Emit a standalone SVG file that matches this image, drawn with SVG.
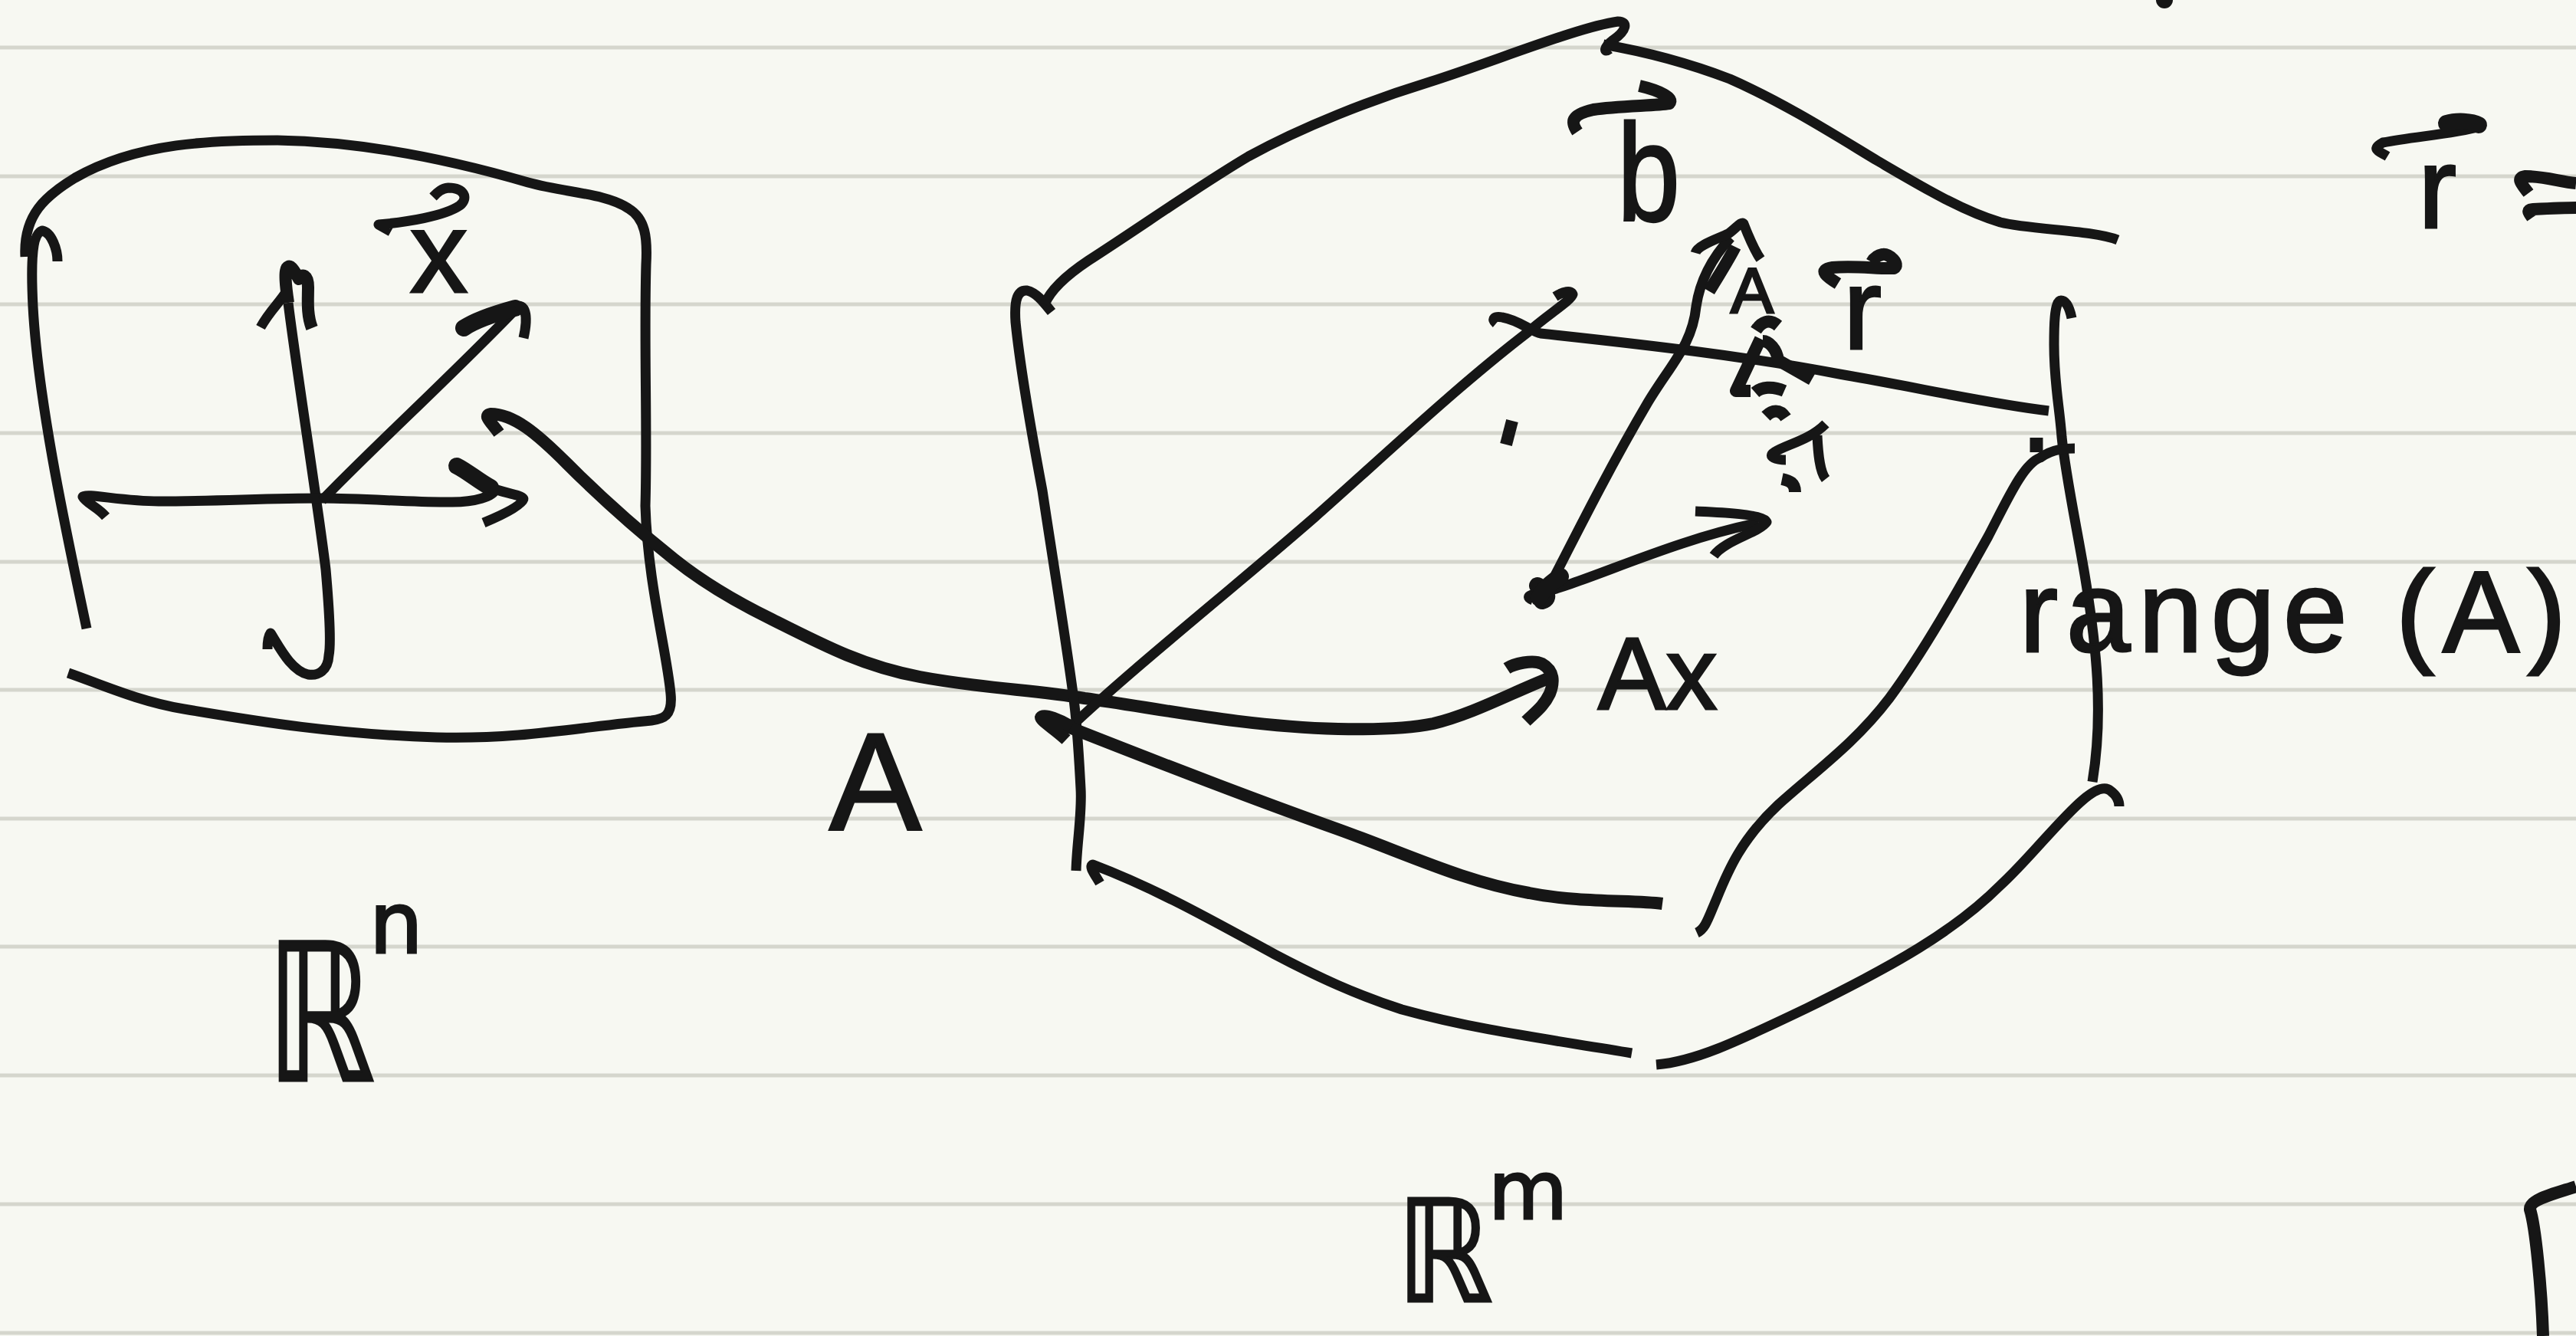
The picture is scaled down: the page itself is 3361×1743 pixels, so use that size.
<svg xmlns="http://www.w3.org/2000/svg" width="3361" height="1743" viewBox="0 0 3361 1743">
<style>
.rule{stroke:#d5d6cd;stroke-width:5;fill:none}
.ink{stroke:#161616;stroke-width:13;fill:none;stroke-linejoin:round;stroke-linecap:butt}
.thick{stroke-width:16}
.fat{stroke-width:22;stroke-linecap:round}
text{fill:#161616;stroke:#161616;stroke-width:3;font-family:"Liberation Sans",Arial,sans-serif}
.ds{font-family:"DejaVu Sans",sans-serif}
</style>
<rect width="3361" height="1743" fill="#f7f8f2"/>
<g id="paper-rules" class="rule">
<path d="M0 62H3361M0 230H3361M0 397H3361M0 565H3361M0 733H3361M0 900H3361M0 1068H3361M0 1235H3361M0 1403H3361M0 1571H3361M0 1739H3361"/>
</g>
<g id="rn-blob" class="ink">
<path d="M113 820C90 710 50 530 43 400C40 340 42 305 55 301C67 303 75 325 75 341"/>
<path d="M33 335C30 280 60 255 98 232C180 185 280 183 362 183C480 185 600 212 689 238C740 252 790 252 820 272C842 285 845 310 843 345C840 450 845 560 842 660C845 760 870 850 875 905C878 935 865 938 850 940C760 948 680 965 570 962C440 958 340 942 240 925C180 915 130 892 89 878"/>
</g>
<g id="rn-axes" class="ink">
<path d="M340 427C352 405 365 395 375 378"/>
<path class="thick" d="M407 428C400 410 402 390 402 375C402 358 394 356 390 364C385 355 380 346 376 348C370 350 373 375 376 395"/>
<path d="M376 395C385 470 415 660 425 743C430 800 432 840 429 855C428 875 415 882 402 880C380 875 365 845 353 826C350 830 349 838 349 847"/>
<path d="M138 674C128 662 112 656 108 648C112 643 160 654 207 654C280 654 350 650 419 650C480 650 540 656 590 655C620 655 643 648 647 638"/>
<path class="fat" d="M596 608C610 615 625 628 640 636"/>
<path d="M640 636C655 643 680 645 683 651C680 660 655 672 631 682"/>
<path d="M420 653C480 590 600 480 676 400"/>
<path class="fat" d="M605 428C620 418 650 408 672 402"/>
<path d="M672 400C685 395 690 410 683 441"/>
</g>
<g id="map-curve" class="ink thick">
<path d="M651 565C640 550 630 542 640 540C670 540 700 565 740 605C780 645 830 690 880 730C920 762 960 785 1007 808C1080 845 1130 870 1200 883C1280 898 1350 900 1415 911C1500 922 1620 948 1746 951C1790 952 1840 950 1870 944C1920 932 1970 905 2020 885"/>
<path d="M1966 872C1975 866 2000 860 2012 866C2028 875 2028 890 2022 905C2014 922 2002 930 1991 941"/>
</g>
<g id="rm-blob" class="ink">
<path d="M1404 1136C1405 1100 1412 1060 1410 1029C1408 990 1405 940 1400 905C1390 830 1372 720 1360 640C1345 560 1330 470 1325 420C1323 390 1328 378 1340 379C1352 382 1360 392 1372 407"/>
<path d="M1363 397C1370 380 1390 360 1420 340C1490 295 1560 245 1629 204C1700 165 1790 130 1865 107C1950 80 2060 35 2111 28C2125 28 2122 40 2105 52C2092 62 2092 70 2100 64"/>
<path d="M2092 58C2150 68 2210 85 2257 103C2330 135 2400 180 2450 210C2510 245 2560 275 2610 290C2650 300 2730 300 2763 313"/>
<path d="M2703 415C2700 400 2695 392 2689 392C2680 392 2680 430 2680 450C2680 500 2687 530 2690 570C2695 620 2710 690 2720 750C2735 840 2745 930 2730 1020"/>
<path d="M1435 1152C1428 1140 1420 1130 1426 1128C1510 1160 1580 1200 1663 1245C1720 1275 1770 1298 1829 1317C1930 1345 2030 1357 2129 1374"/>
<path d="M2161 1389C2210 1385 2260 1362 2358 1315C2470 1260 2550 1215 2610 1155C2665 1105 2730 1010 2754 1032C2762 1038 2765 1045 2765 1052"/>
<path d="M2214 1217C2225 1212 2228 1200 2240 1172C2255 1135 2272 1095 2320 1050C2370 1005 2420 970 2465 911C2510 850 2555 770 2594 700C2620 650 2640 605 2662 597C2680 585 2695 585 2707 585"/>
</g>
<g id="rm-vectors" class="ink">
<path d="M1393 952C1480 870 1600 775 1715 675C1800 600 1900 505 1994 433C2020 410 2050 392 2052 384C2050 378 2040 380 2029 387"/>
<path class="thick" d="M1360 935C1380 945 1398 950 1398 950C1500 990 1600 1030 1746 1082C1840 1116 1910 1150 1995 1165C2060 1178 2130 1174 2169 1179"/>
<path class="thick" d="M1391 965C1375 950 1360 942 1358 936C1362 930 1385 940 1398 948"/>
<path d="M1952 422C1945 416 1950 412 1960 414C1980 417 2000 433 2010 435C2150 450 2280 465 2400 488C2500 505 2590 526 2673 536"/>
<path d="M2015 778C2060 690 2100 610 2150 525C2180 475 2208 450 2213 400C2218 365 2235 335 2258 310"/>
<path d="M2212 330C2215 320 2240 312 2255 305C2265 298 2272 288 2275 292C2282 310 2288 325 2297 338"/>
<path class="thick" d="M2230 380C2245 355 2255 340 2264 322"/>
<path d="M2000 783C1990 779 1995 776 2005 775C2070 760 2180 705 2295 682"/>
<path class="fat" d="M2006 764C2015 770 2025 780 2012 784"/>
<path class="fat" d="M2008 780C2012 770 2024 760 2036 752"/>
<path d="M2212 667C2235 668 2300 670 2305 681C2295 695 2250 705 2236 725"/>
</g>
<g id="dotted-line" class="ink">
<path class="thick" d="M2291 431C2298 420 2308 415 2320 425"/>
<path class="thick" d="M2297 442L2265 510H2284"/>
<path class="thick" d="M2300 445C2308 445 2318 455 2320 470L2364 495"/>
<path class="thick" d="M2290 512C2298 505 2312 503 2328 510"/>
<path class="thick" d="M2304 543C2312 535 2322 533 2330 545"/>
<path d="M2382 553C2360 575 2330 580 2315 590C2305 596 2318 600 2330 600M2371 568C2372 590 2374 615 2382 625"/>
<path class="thick" d="M2325 625C2335 627 2342 630 2342 642"/>
<path class="thick" d="M1973 549L1965 580"/>
<path style="stroke-width:17" d="M2657 571V590"/>
</g>
<g id="vector-bars" class="ink">
<path d="M510 302L494 293C530 290 580 282 600 268C612 258 605 245 585 245C575 246 570 252 565 257"/>
<path class="thick" d="M2058 172C2050 160 2048 150 2079 143C2110 138 2160 138 2178 135C2185 128 2165 118 2139 112"/>
<path class="thick" d="M2398 370C2385 362 2370 352 2391 349C2420 346 2450 351 2471 350C2480 345 2465 330 2456 332C2450 333 2445 337 2442 342"/>
<path d="M3115 204C3105 198 3092 195 3109 186C3150 178 3200 175 3236 165"/>
<path class="fat" d="M3192 161C3205 157 3225 158 3234 163"/>
<path class="thick" d="M3299 252C3290 240 3282 232 3295 230C3320 230 3340 237 3361 239"/>
<path class="thick" d="M3304 284C3300 278 3295 274 3305 273C3325 272 3345 271 3361 271"/>
<path class="thick" d="M3361 1548C3330 1558 3300 1565 3301 1578C3308 1600 3316 1680 3318 1743"/>
</g>
<circle id="page-mark" cx="2824" cy="0" r="11" fill="#161616"/>
<g id="labels">
<text x="535" y="381" font-size="150">x</text>
<text x="1082" y="1082" font-size="180">A</text>
<text x="2085" y="925" font-size="133">Ax</text>
<text x="2110" y="288" font-size="180" textLength="82" lengthAdjust="spacingAndGlyphs">b</text>
<text x="2258" y="408" font-size="84">A</text>
<text x="2405" y="455" font-size="150">r</text>
<text x="3155" y="297" font-size="150">r</text>
<text x="2635" y="850" font-size="150" textLength="713" lengthAdjust="spacing">range (A)</text>
<text class="ds" transform="translate(347 1410) scale(.72 1)" font-size="250">ℝ</text>
<text class="ds" x="482" y="1243" font-size="110">n</text>
<text class="ds" transform="translate(1822 1698) scale(.86 1)" font-size="185">ℝ</text>
<text class="ds" x="1942" y="1590" font-size="106">m</text>
</g>
</svg>
